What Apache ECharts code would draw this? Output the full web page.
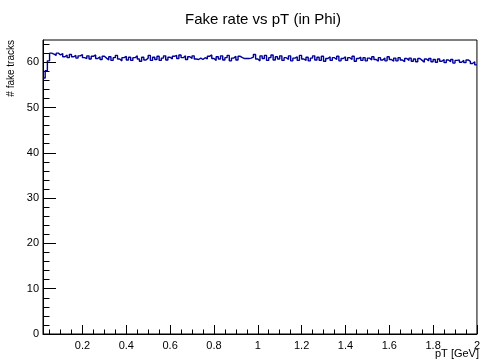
<!DOCTYPE html>
<html>
<head>
<meta charset="utf-8">
<script src="https://cdn.jsdelivr.net/npm/echarts@6/dist/echarts.min.js"></script>
<style>
  html, body { margin: 0; padding: 0; background: #fff; }
  #chart { width: 483px; height: 362px; }
</style>
</head>
<body>
<div id="chart"></div>
<script>
// histogram: 198 bins of 0.01 GeV from 0.02 to 2.0
var binStart = 0.02;
var binWidth = 0.01;
var fakeCounts = [
  56.5, 58.1, 60.3, 62.0, 61.8, 61.5, 62.0, 61.6, 61.9, 61.2,
  61.6, 61.0, 61.7, 61.2, 61.5, 60.9, 61.4, 61.7, 61.0, 60.8,
  61.4, 60.7, 61.3, 61.6, 60.8, 61.2, 60.6, 61.3, 60.9, 60.5,
  61.2, 60.4, 61.0, 61.5, 60.7, 60.3, 61.0, 61.3, 60.5, 61.1,
  60.4, 61.0, 61.4, 60.7, 60.2, 61.1, 60.5, 60.9, 61.5, 60.4,
  61.1, 60.6, 61.3, 60.4, 60.9, 61.4, 60.5, 61.1, 60.7, 61.3,
  61.5, 60.8, 61.6, 61.0, 61.4, 60.6, 61.2, 60.8, 61.4, 60.7,
  60.6, 60.9, 60.6, 61.0, 60.7, 61.3, 61.6, 60.8, 60.4, 61.2,
  60.7, 61.4, 60.5, 61.0, 61.5, 60.3, 60.9, 61.3, 60.5, 61.3,
  61.0, 60.8, 60.8, 60.8, 60.9, 61.1, 61.7, 60.7, 60.3, 61.4,
  60.8, 61.5, 60.4, 61.0, 61.6, 60.5, 61.2, 60.7, 61.4, 60.4,
  61.0, 60.6, 61.4, 60.3, 60.9, 61.2, 60.4, 61.5, 60.7, 60.4,
  61.1, 60.3, 60.9, 61.4, 60.5, 61.1, 60.4, 61.3, 60.2, 60.8,
  61.2, 60.4, 61.0, 60.6, 61.3, 60.3, 60.8, 61.2, 60.4, 61.0,
  60.6, 61.3, 60.2, 60.8, 61.1, 60.4, 61.0, 60.3, 60.9, 60.5,
  61.2, 60.6, 60.2, 61.0, 60.5, 60.9, 60.3, 61.2, 60.6, 60.2,
  60.9, 60.3, 61.0, 60.5, 60.1, 60.8, 60.4, 60.9, 60.2, 60.7,
  60.1, 60.8, 60.4, 60.0, 60.7, 60.3, 60.8, 60.1, 60.6, 60.0,
  60.7, 60.2, 60.6, 59.9, 60.5, 60.1, 60.6, 59.8, 60.4, 60.5,
  60.0, 60.4, 59.9, 60.5, 60.2, 59.7, 60.1, 59.4
];

var xMajorTicks = [0.2, 0.4, 0.6, 0.8, 1, 1.2, 1.4, 1.6, 1.8, 2];
var xMinorTicks = [0.05, 0.1, 0.15, 0.25, 0.3, 0.35, 0.45, 0.5, 0.55, 0.65, 0.7, 0.75,
  0.85, 0.9, 0.95, 1.05, 1.1, 1.15, 1.25, 1.3, 1.35, 1.45, 1.5, 1.55, 1.65, 1.7, 1.75,
  1.85, 1.9, 1.95];
var yMajorTicks = [0, 10, 20, 30, 40, 50, 60];
var yMinorTicks = [2, 4, 6, 8, 12, 14, 16, 18, 22, 24, 26, 28, 32, 34, 36, 38,
  42, 44, 46, 48, 52, 54, 56, 58, 62, 64];

var xMin = 0.02, xMax = 2, yMin = 0, yMax = 64.9;

var stepData = [];
fakeCounts.forEach(function (v, i) {
  stepData.push([+(binStart + i * binWidth).toFixed(3), v]);
});
stepData.push([xMax, fakeCounts[fakeCounts.length - 1]]);

var font = "'Liberation Sans', Arial, sans-serif";
var myChart = echarts.init(document.getElementById("chart"));

var option = {
  animation: false,
  backgroundColor: "#fff",
  grid: {
    left: 43, right: 3, top: 40, bottom: 28,
    show: true, borderColor: "#000", borderWidth: 1, backgroundColor: "#fff"
  },
  title: {
    text: "Fake rate vs pT (in Phi)",
    left: 258, top: 7, textAlign: "center",
    textStyle: { fontFamily: font, fontSize: 15, fontWeight: "normal", color: "#000" }
  },
  xAxis: [
    {
      type: "value", min: xMin, max: xMax, position: "bottom",
      axisLine: { show: true, onZero: false, lineStyle: { color: "#000" } },
      axisTick: { show: true, inside: true, length: 9, customValues: xMajorTicks, lineStyle: { color: "#000" } },
      axisLabel: { customValues: xMajorTicks, margin: 6, fontFamily: font, fontSize: 11, color: "#000" },
      splitLine: { show: false }
    },
    {
      type: "value", min: xMin, max: xMax, position: "bottom",
      axisLine: { show: false },
      axisTick: { show: true, inside: true, length: 4.5, customValues: xMinorTicks, lineStyle: { color: "#000" } },
      axisLabel: { show: false },
      splitLine: { show: false }
    }
  ],
  yAxis: [
    {
      type: "value", min: yMin, max: yMax, position: "left",
      axisLine: { show: true, onZero: false, lineStyle: { color: "#000" } },
      axisTick: { show: true, inside: true, length: 13, customValues: yMajorTicks, lineStyle: { color: "#000" } },
      axisLabel: { customValues: yMajorTicks, margin: 4, fontFamily: font, fontSize: 11, color: "#000" },
      splitLine: { show: false }
    },
    {
      type: "value", min: yMin, max: yMax, position: "left",
      axisLine: { show: false },
      axisTick: { show: true, inside: true, length: 6.5, customValues: yMinorTicks, lineStyle: { color: "#000" } },
      axisLabel: { show: false },
      splitLine: { show: false }
    }
  ],
  graphic: [
    {
      type: "text", right: 4, top: 348,
      style: { text: "pT [GeV]", fontFamily: font, fontSize: 11, fill: "#000" }
    },
    {
      type: "text", x: 6, y: 40, rotation: Math.PI / 2,
      style: { text: "# fake tracks", fontFamily: font, fontSize: 10, fill: "#000", align: "right", verticalAlign: "top" }
    }
  ],
  series: [
    {
      type: "line",
      step: "end",
      xAxisIndex: 0, yAxisIndex: 0,
      data: stepData,
      symbol: "none",
      lineStyle: { color: "#00009a", width: 1.4 }
    }
  ]
};

option && myChart.setOption(option);
</script>
</body>
</html>
